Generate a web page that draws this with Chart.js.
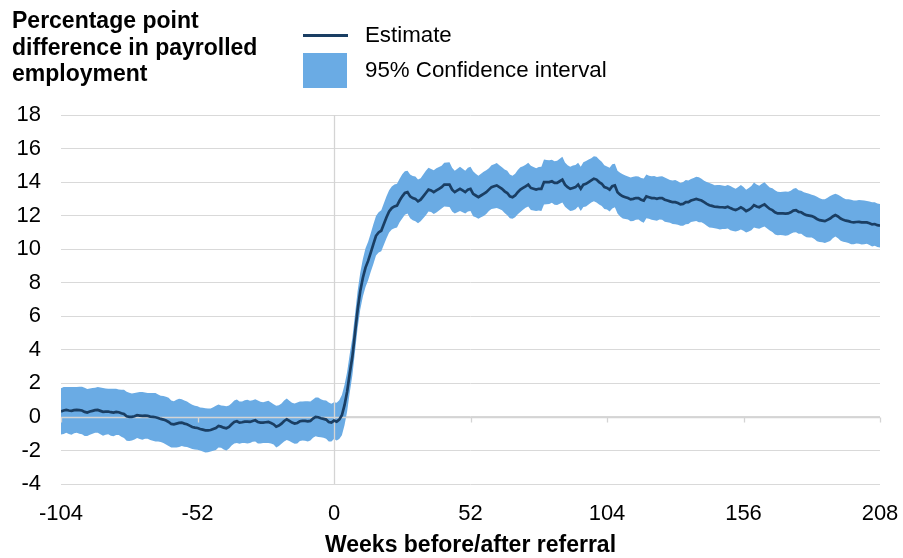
<!DOCTYPE html>
<html>
<head>
<meta charset="utf-8">
<script src="https://cdn.jsdelivr.net/npm/chart.js@4.4.1/dist/chart.umd.min.js"></script>
<style>
  html, body { margin: 0; padding: 0; background: #ffffff; }
  #wrap { position: relative; width: 903px; height: 558px; overflow: hidden; font-family: "Liberation Sans", Arial, sans-serif; }
  #chart { position: absolute; left: 0; top: 0; }
  #ytitle { position: absolute; left: 12px; top: 7px; font-weight: bold; font-size: 23px; line-height: 26.5px; color: #000; }
  .leg { position: absolute; left: 303px; font-size: 22.3px; color: #000; }
  .leg .sw { position: absolute; left: 0; }
  .leg .tx { position: absolute; left: 62px; white-space: nowrap; line-height: 26px; }
</style>
</head>
<body>
<div id="wrap">
  <canvas id="chart" width="903" height="558"></canvas>
  <div id="ytitle">Percentage point<br>difference in payrolled<br>employment</div>
  <div class="leg" style="top:22px;">
    <div class="sw" style="top:12px;width:45px;height:3px;background:#1a3e63;"></div>
    <div class="tx" style="top:0;">Estimate</div>
  </div>
  <div class="leg" style="top:53px;">
    <div class="sw" style="top:0;width:44px;height:35px;background:#6aabe4;"></div>
    <div class="tx" style="top:4px;">95% Confidence interval</div>
  </div>
</div>
<script>
// Weeks relative to referral, first and last week shown
const firstWeek = -104;
const lastWeek = 208;

// Axis tick labels
const xTickLabels = [-104, -52, 0, 52, 104, 156, 208];
const yTickLabels = [-4, -2, 0, 2, 4, 6, 8, 10, 12, 14, 16, 18];

// Estimated percentage point difference, one value per week (-104 .. 208)
const estimate = [
  0.33, 0.38, 0.42, 0.38, 0.36, 0.40, 0.42, 0.40, 0.38, 0.30, 0.26, 0.32, 0.36,
  0.40, 0.42, 0.36, 0.30, 0.32, 0.32, 0.28, 0.26, 0.30, 0.28, 0.22, 0.18, 0.04,
  0.00, 0.00, 0.04, 0.10, 0.08, 0.06, 0.08, 0.06, 0.02, 0.00, -0.02, -0.06, -0.12,
  -0.16, -0.22, -0.30, -0.42, -0.44, -0.40, -0.36, -0.34, -0.40, -0.44, -0.52, -0.60, -0.64,
  -0.66, -0.72, -0.76, -0.80, -0.80, -0.78, -0.72, -0.66, -0.54, -0.58, -0.64, -0.68, -0.60,
  -0.44, -0.30, -0.26, -0.34, -0.32, -0.28, -0.28, -0.30, -0.24, -0.20, -0.30, -0.34, -0.34,
  -0.32, -0.30, -0.36, -0.44, -0.58, -0.52, -0.40, -0.24, -0.14, -0.24, -0.34, -0.40, -0.36,
  -0.26, -0.24, -0.24, -0.26, -0.24, -0.10, 0.00, -0.02, -0.08, -0.12, -0.16, -0.30, -0.34,
  -0.22, -0.28, -0.16, 0.10, 0.70, 1.50, 2.60, 3.60, 5.00, 6.40, 7.50, 8.30, 8.90,
  9.30, 9.80, 10.30, 10.80, 11.00, 11.10, 11.50, 11.90, 12.25, 12.45, 12.55, 12.60, 12.90,
  13.15, 13.35, 13.40, 13.15, 13.05, 13.00, 12.85, 12.95, 13.15, 13.35, 13.55, 13.50, 13.40,
  13.50, 13.60, 13.70, 13.85, 13.85, 13.85, 13.55, 13.40, 13.50, 13.60, 13.50, 13.40, 13.55,
  13.60, 13.30, 13.20, 13.10, 13.20, 13.30, 13.40, 13.55, 13.70, 13.75, 13.80, 13.70, 13.60,
  13.45, 13.35, 13.15, 13.10, 13.20, 13.40, 13.55, 13.65, 13.75, 13.85, 13.65, 13.60, 13.55,
  13.60, 13.60, 14.00, 14.00, 14.00, 14.05, 13.95, 13.95, 14.05, 14.15, 13.85, 13.70, 13.60,
  13.65, 13.70, 13.85, 13.60, 13.85, 13.90, 14.00, 14.10, 14.20, 14.15, 14.00, 13.90, 13.70,
  13.65, 13.55, 13.75, 13.80, 13.40, 13.25, 13.15, 13.10, 13.05, 12.97, 13.00, 13.05, 13.05,
  12.95, 12.90, 13.15, 13.10, 13.05, 13.05, 13.00, 13.05, 13.05, 12.95, 12.90, 12.85, 12.80,
  12.80, 12.75, 12.67, 12.70, 12.80, 12.80, 12.90, 12.95, 13.00, 12.95, 12.90, 12.80, 12.70,
  12.62, 12.58, 12.53, 12.52, 12.50, 12.50, 12.48, 12.53, 12.45, 12.38, 12.33, 12.40, 12.50,
  12.40, 12.27, 12.35, 12.45, 12.63, 12.55, 12.50, 12.60, 12.67, 12.53, 12.40, 12.33, 12.20,
  12.13, 12.13, 12.13, 12.12, 12.13, 12.20, 12.30, 12.33, 12.22, 12.20, 12.10, 12.03, 12.00,
  11.97, 11.90, 11.80, 11.73, 11.70, 11.67, 11.75, 11.83, 11.95, 12.03, 11.95, 11.83, 11.75,
  11.70, 11.67, 11.62, 11.60, 11.62, 11.63, 11.60, 11.60, 11.60, 11.55, 11.48, 11.50, 11.43,
  11.40
];

// Half-width of the 95% confidence interval, one value per week
const ciHalfWidth = [
  1.38, 1.40, 1.36, 1.40, 1.42, 1.38, 1.36, 1.40, 1.42, 1.44, 1.40, 1.38, 1.36,
  1.34, 1.36, 1.40, 1.42, 1.38, 1.36, 1.40, 1.42, 1.38, 1.36, 1.40, 1.44, 1.46,
  1.44, 1.40, 1.38, 1.36, 1.40, 1.42, 1.38, 1.36, 1.40, 1.42, 1.44, 1.40, 1.38,
  1.40, 1.42, 1.44, 1.40, 1.38, 1.42, 1.44, 1.40, 1.38, 1.36, 1.34, 1.32, 1.30,
  1.30, 1.28, 1.30, 1.32, 1.30, 1.28, 1.30, 1.32, 1.28, 1.26, 1.30, 1.32, 1.28,
  1.26, 1.28, 1.30, 1.26, 1.24, 1.28, 1.30, 1.26, 1.24, 1.26, 1.28, 1.24, 1.22,
  1.24, 1.26, 1.22, 1.20, 1.24, 1.22, 1.20, 1.22, 1.24, 1.20, 1.18, 1.20, 1.22,
  1.18, 1.16, 1.18, 1.20, 1.16, 1.14, 1.16, 1.18, 1.14, 1.12, 1.14, 1.16, 1.12,
  1.10, 1.12, 1.15, 1.20, 1.20, 1.18, 1.15, 1.12, 1.10, 1.10, 1.10, 1.12, 1.15,
  1.15, 1.15, 1.18, 1.18, 1.20, 1.22, 1.24, 1.25, 1.26, 1.28, 1.30, 1.30, 1.30,
  1.32, 1.30, 1.28, 1.30, 1.32, 1.34, 1.30, 1.28, 1.30, 1.32, 1.30, 1.28, 1.30,
  1.32, 1.30, 1.28, 1.30, 1.32, 1.34, 1.30, 1.28, 1.30, 1.32, 1.30, 1.28, 1.30,
  1.32, 1.34, 1.30, 1.28, 1.30, 1.32, 1.30, 1.28, 1.30, 1.32, 1.34, 1.30, 1.28,
  1.30, 1.32, 1.30, 1.28, 1.30, 1.32, 1.34, 1.30, 1.28, 1.30, 1.32, 1.30, 1.28,
  1.30, 1.32, 1.34, 1.32, 1.30, 1.28, 1.30, 1.32, 1.34, 1.36, 1.32, 1.30, 1.32,
  1.34, 1.32, 1.30, 1.32, 1.34, 1.36, 1.34, 1.32, 1.34, 1.36, 1.34, 1.32, 1.30,
  1.28, 1.30, 1.32, 1.30, 1.28, 1.30, 1.32, 1.30, 1.28, 1.30, 1.32, 1.30, 1.28,
  1.30, 1.32, 1.30, 1.28, 1.30, 1.32, 1.30, 1.28, 1.30, 1.32, 1.30, 1.28, 1.30,
  1.32, 1.30, 1.28, 1.30, 1.32, 1.30, 1.28, 1.30, 1.32, 1.34, 1.30, 1.28, 1.30,
  1.32, 1.30, 1.28, 1.30, 1.32, 1.30, 1.28, 1.30, 1.32, 1.30, 1.28, 1.30, 1.32,
  1.30, 1.28, 1.30, 1.32, 1.34, 1.30, 1.28, 1.30, 1.32, 1.30, 1.28, 1.30, 1.32,
  1.30, 1.28, 1.30, 1.32, 1.30, 1.28, 1.30, 1.32, 1.30, 1.28, 1.30, 1.32, 1.30,
  1.28, 1.30, 1.32, 1.30, 1.28, 1.30, 1.32, 1.34, 1.30, 1.28, 1.30, 1.32, 1.30,
  1.28, 1.30, 1.32, 1.30, 1.28, 1.30, 1.32, 1.30, 1.28, 1.30, 1.32, 1.30, 1.30,
  1.30
];

const weeks = [];
for (let w = firstWeek; w <= lastWeek; w++) weeks.push(w);

const estPoints = weeks.map((w, i) => ({ x: w, y: estimate[i] }));
const upperPoints = weeks.map((w, i) => ({ x: w, y: estimate[i] + ciHalfWidth[i] }));
const lowerPoints = weeks.map((w, i) => ({ x: w, y: estimate[i] - ciHalfWidth[i] }));

const FONT = '"Liberation Sans", Arial, sans-serif';
const AXIS_GREY = '#d4d4d4';

// Axis lines crossing at zero, drawn over the band but under the estimate
const zeroAxes = {
  id: 'zeroAxes',
  beforeDatasetDraw(chart, args) {
    if (args.index !== 0) return;
    const { ctx, chartArea, scales } = chart;
    const x = scales.x, y = scales.y;
    const y0 = Math.round(y.getPixelForValue(0)) + 0.5;
    const x0 = Math.round(x.getPixelForValue(0)) + 0.5;
    ctx.save();
    ctx.strokeStyle = AXIS_GREY;
    ctx.lineWidth = 1.3;
    ctx.beginPath();
    ctx.moveTo(chartArea.left, y0);
    ctx.lineTo(chartArea.right, y0);
    ctx.moveTo(x0, chartArea.top);
    ctx.lineTo(x0, chartArea.bottom);
    xTickLabels.forEach(v => {
      const px = Math.round(x.getPixelForValue(v)) + 0.5;
      ctx.moveTo(px, y0);
      ctx.lineTo(px, y0 + 5);
    });
    ctx.stroke();
    ctx.restore();
  }
};

new Chart(document.getElementById('chart'), {
  type: 'line',
  data: {
    datasets: [
      {
        label: 'Estimate',
        data: estPoints,
        borderColor: '#1a3e63',
        borderWidth: 2.7,
        pointRadius: 0,
        fill: false,
        tension: 0
      },
      {
        label: 'Upper',
        data: upperPoints,
        borderColor: 'rgba(0,0,0,0)',
        borderWidth: 0,
        pointRadius: 0,
        backgroundColor: '#6aabe4',
        fill: '+1',
        tension: 0
      },
      {
        label: 'Lower',
        data: lowerPoints,
        borderColor: 'rgba(0,0,0,0)',
        borderWidth: 0,
        pointRadius: 0,
        fill: false,
        tension: 0
      }
    ]
  },
  options: {
    responsive: false,
    animation: false,
    events: [],
    layout: { padding: { top: 115, right: 23, left: 0, bottom: 0 } },
    plugins: {
      legend: { display: false },
      tooltip: { enabled: false },
      title: { display: false }
    },
    scales: {
      x: {
        type: 'linear',
        min: firstWeek,
        max: lastWeek,
        afterBuildTicks(scale) { scale.ticks = xTickLabels.map(v => ({ value: v })); },
        afterFit(scale) {
          scale.height = 74;
          scale.paddingLeft = 0;
          scale.paddingRight = 0;
        },
        grid: { display: false, drawTicks: false },
        border: { display: false },
        ticks: {
          padding: 17,
          maxRotation: 0,
          autoSkip: false,
          color: '#000',
          font: { family: FONT, size: 22 }
        },
        title: {
          display: true,
          text: 'Weeks before/after referral',
          color: '#000',
          padding: { top: 0, bottom: 0 },
          font: { family: FONT, size: 23, weight: 'bold', lineHeight: 1.1 }
        }
      },
      y: {
        type: 'linear',
        min: -4,
        max: 18,
        afterBuildTicks(scale) { scale.ticks = yTickLabels.map(v => ({ value: v })); },
        afterFit(scale) { scale.width = 61; },
        grid: { color: '#d9d9d9', lineWidth: 1, drawTicks: false },
        border: { display: false },
        ticks: {
          padding: 20,
          color: '#000',
          font: { family: FONT, size: 22 }
        }
      }
    }
  },
  plugins: [zeroAxes]
});
</script>
</body>
</html>
